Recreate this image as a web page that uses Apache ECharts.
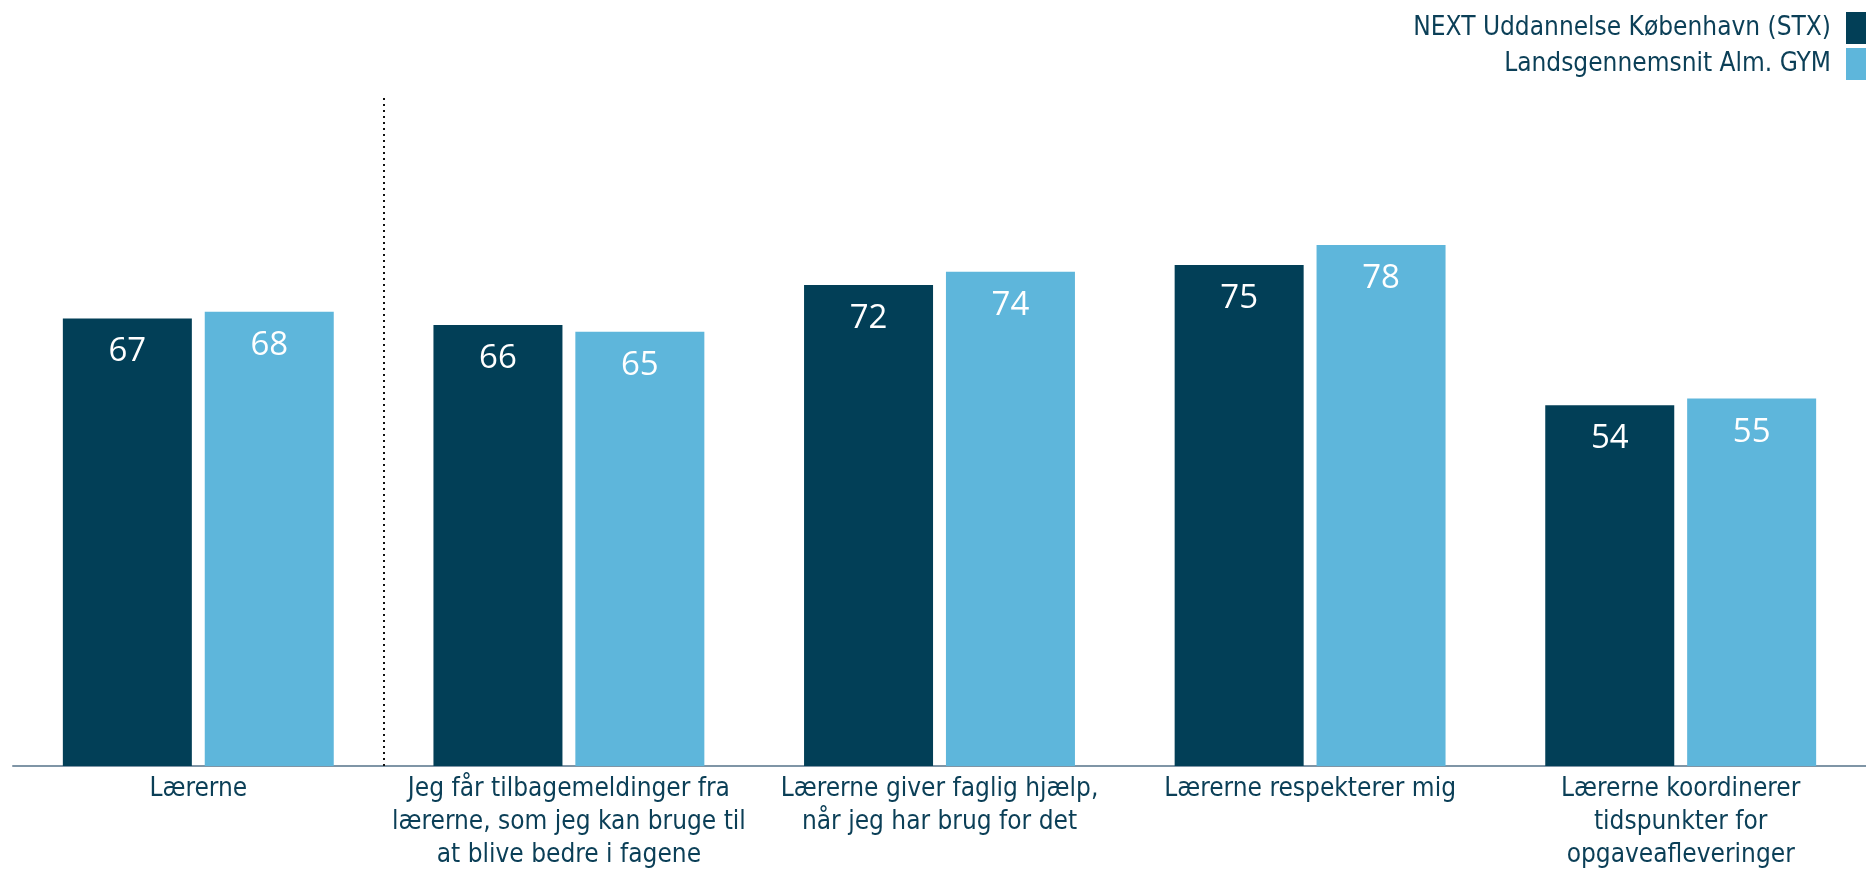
<!DOCTYPE html>
<html>
<head>
<meta charset="utf-8">
<script src="https://cdn.jsdelivr.net/npm/echarts@6/dist/echarts.min.js"></script>
<style>
html,body{margin:0;padding:0;background:#fff;}
#chart{width:1866px;height:873px;}
</style>
</head>
<body>
<div id="chart"></div>
<script>
const categories = [
  "Lærerne",
  "Jeg får tilbagemeldinger fra\nlærerne, som jeg kan bruge til\nat blive bedre i fagene",
  "Lærerne giver faglig hjælp,\nnår jeg har brug for det",
  "Lærerne respekterer mig",
  "Lærerne koordinerer\ntidspunkter for\nopgaveafleveringer"
];
const seriesNames = ["NEXT Uddannelse København (STX)", "Landsgennemsnit Alm. GYM"];
const nextValues = [67, 66, 72, 75, 54];
const landsValues = [68, 65, 74, 78, 55];
// separator after the first category (boundary index on a 0..N scale)
const separatorAfter = [1];

const DARK = "#023f57";
const LIGHT = "#5eb6db";
const TEXT = "#0b3f57";
const FONT = "'DejaVu Sans Condensed', 'Liberation Sans', sans-serif";

const chart = echarts.init(document.getElementById('chart'));
const labelCfg = {
  show: true,
  position: 'insideTop',
  distance: 17,
  color: '#fff',
  fontSize: 33,
  fontFamily: "'Open Sans', sans-serif"
};
chart.setOption({
  animation: false,
  legend: {
    orient: 'vertical',
    right: 0,
    top: 12,
    padding: 0,
    align: 'right',
    itemWidth: 20,
    itemHeight: 32,
    itemGap: 4,
    icon: 'rect',
    selectedMode: false,
    textStyle: { color: TEXT, fontSize: 26, fontFamily: FONT, padding: [0, 10, 0, 0] },
    data: seriesNames
  },
  grid: { left: 13, width: 1868, top: 98, bottom: 107, containLabel: false },
  xAxis: [
    {
      type: 'category',
      data: categories,
      axisLine: { show: true, lineStyle: { color: '#7f95a6', width: 2 } },
      axisTick: { show: false },
      axisLabel: { color: TEXT, fontSize: 26, lineHeight: 33, fontFamily: FONT, margin: 7, interval: 0 },
      splitLine: { show: false }
    },
    {
      type: 'value',
      min: 0,
      max: categories.length,
      show: false,
      splitLine: { show: false }
    }
  ],
  yAxis: {
    type: 'value',
    min: 0,
    max: 100,
    show: false,
    splitLine: { show: false }
  },
  series: [
    {
      name: seriesNames[0],
      type: 'bar',
      data: nextValues,
      barWidth: 129,
      barGap: '10%',
      itemStyle: { color: DARK },
      label: labelCfg
    },
    {
      name: seriesNames[1],
      type: 'bar',
      data: landsValues,
      barWidth: 129,
      barGap: '10%',
      itemStyle: { color: LIGHT },
      label: labelCfg
    },
    {
      name: 'separator',
      type: 'line',
      xAxisIndex: 1,
      data: [],
      markLine: {
        silent: true,
        symbol: 'none',
        label: { show: false },
        lineStyle: { color: '#111', width: 2, type: [2, 4] },
        data: separatorAfter.map(v => ({ xAxis: v }))
      }
    }
  ]
});
</script>
</body>
</html>
